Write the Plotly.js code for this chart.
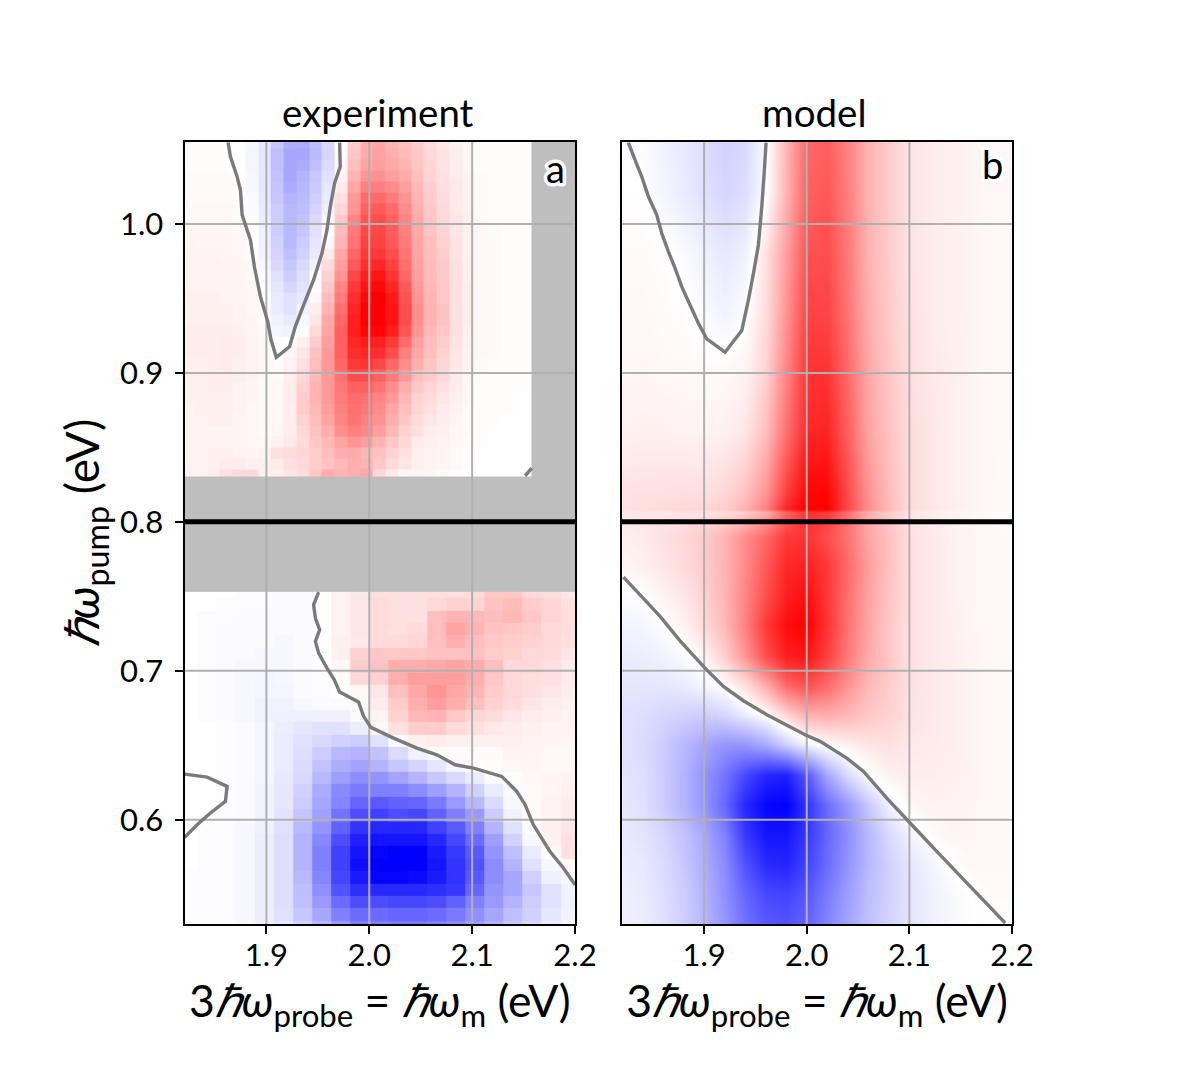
<!DOCTYPE html>
<html><head><meta charset="utf-8">
<script src="https://cdn.plot.ly/plotly-3.0.1.min.js"></script>
<style>html,body{margin:0;padding:0;background:#fff}
.annotation[data-index="2"] text,.annotation[data-index="3"] text{stroke:#fff;stroke-width:7px;paint-order:stroke;stroke-linejoin:round}</style></head>
<body><div id="chart" style="width:1196px;height:1080px"></div>
<script>
const ticksX=[1.9,2.0,2.1,2.2];
const ticksY=[0.6,0.7,0.8,0.9,1.0];
const xTickText=["1.9","2.0","2.1","2.2"];
const yTickText=["0.6","0.7","0.8","0.9","1.0"];

// Panel a, pump above the gap: rows top to bottom
const expUpper=[
[1,1,1,1,0,-3,-9,-22,-32,-33,-25,-15,1,20,32,35,30,25,20,14,10,6,4,1,1,1,1,1],
[1,1,1,1,0,-4,-10,-25,-35,-35,-27,-16,2,22,33,37,32,27,22,15,11,7,4,1,1,1,1,1],
[1,1,1,1,0,-4,-10,-25,-35,-33,-25,-14,4,25,36,38,34,30,23,16,11,8,4,1,1,1,1,1],
[2,2,2,2,1,-3,-10,-24,-35,-30,-22,-12,5,30,42,43,38,33,25,17,12,8,5,2,1,1,1,1],
[2,2,2,2,1,-3,-10,-23,-33,-28,-21,-10,8,35,50,50,46,38,28,19,13,9,5,2,1,1,1,1],
[2,2,2,2,1,-2,-9,-22,-30,-27,-19,-8,12,40,58,58,52,42,30,20,14,9,5,2,1,1,1,1],
[3,3,3,3,2,-2,-8,-20,-28,-26,-17,-6,16,42,62,65,58,45,32,21,15,9,5,2,1,1,1,1],
[3,3,3,3,2,-1,-7,-20,-28,-24,-15,-3,22,48,68,70,62,48,33,22,15,10,6,2,1,1,1,1],
[4,4,4,4,3,0,-6,-20,-28,-22,-12,1,27,52,72,72,64,50,34,23,17,10,6,3,2,1,1,1],
[4,4,4,4,3,0,-6,-18,-28,-20,-10,3,30,55,75,74,66,52,35,25,18,11,6,3,2,1,1,1],
[5,5,5,4,3,1,-5,-17,-25,-18,-8,8,35,60,78,78,70,54,36,26,20,11,6,3,2,1,1,1],
[5,5,5,5,4,2,-3,-15,-22,-15,-5,14,38,65,82,85,75,57,37,27,21,12,6,3,2,1,1,1],
[5,5,5,5,4,2,-2,-12,-20,-13,-2,18,42,72,88,92,80,60,38,27,21,12,6,3,2,1,1,1],
[5,5,5,5,4,3,-1,-10,-16,-11,1,22,48,78,93,97,85,65,40,28,22,12,7,3,2,1,1,1],
[6,6,6,5,4,3,0,-8,-12,-9,3,26,52,82,97,100,90,68,42,29,22,12,7,3,2,1,1,1],
[6,6,6,6,5,3,1,-8,-12,-6,7,30,56,85,100,100,92,70,44,30,24,12,7,3,2,1,1,1],
[6,6,6,6,5,4,1,-6,-9,-3,10,34,60,88,100,100,92,70,44,30,24,12,7,3,2,1,1,1],
[7,7,7,7,6,4,2,-4,-5,1,15,36,62,88,98,98,88,66,42,28,22,12,6,3,2,1,1,1],
[7,7,7,8,7,5,3,-2,0,6,20,38,62,85,90,88,78,58,38,26,20,11,6,3,2,1,1,1],
[7,7,7,8,7,5,3,0,3,10,24,40,62,82,85,82,70,50,35,25,18,10,5,3,2,1,1,1],
[6,6,7,8,6,5,3,2,5,12,26,40,60,78,80,72,60,45,32,23,16,9,5,2,1,1,1,1],
[6,6,7,7,6,5,3,2,6,15,28,40,56,70,70,62,52,40,26,20,15,8,4,1,1,1,1,1],
[6,6,7,7,5,4,2,3,7,18,30,40,53,62,62,55,45,32,22,16,12,7,3,1,1,1,1,1],
[6,6,6,6,5,4,2,3,8,20,30,40,52,58,56,48,40,28,18,14,10,6,3,1,1,1,0,0],
[5,6,6,6,5,3,2,3,7,20,28,38,50,56,53,45,35,25,16,12,8,5,2,1,1,1,0,0],
[5,5,6,6,4,3,2,3,7,18,26,36,48,55,50,42,32,22,14,10,7,4,2,1,1,0,0,0],
[5,5,5,5,4,3,2,4,7,15,24,32,44,50,47,38,28,18,12,8,6,3,2,1,0,0,0,0],
[5,5,5,5,4,3,3,6,9,14,22,28,36,42,38,30,22,15,8,6,5,3,1,1,0,0,0,0],
[5,5,6,6,5,4,5,12,14,16,20,26,32,33,28,24,18,12,6,5,4,2,1,0,0,0,0,0],
[5,5,6,8,8,6,6,8,12,15,20,24,28,32,30,22,14,10,6,5,4,2,1,0,0,0,0,0],
[5,5,7,12,15,15,6,6,10,14,22,32,30,32,35,15,8,3,4,3,2,1,0,0,0,0,0,0]];

// Panel a, pump below the gap: rows top to bottom
const expLower=[
[0,0,0,-1,-1,-2,-2,0,5,9,12,12,12,12,12,14,22,22,15,13,10],
[0,0,-1,-1,-1,-2,-2,0,5,10,14,12,12,15,18,17,24,27,20,17,12],
[0,-1,-1,-2,-2,-2,-2,0,5,10,14,12,12,25,30,28,26,28,22,17,13],
[0,-1,-2,-2,-2,-2,-2,0,5,10,14,12,14,26,36,30,24,22,20,15,13],
[0,-1,-2,-2,-2,-3,-2,0,6,9,14,14,16,25,32,26,22,20,18,15,12],
[0,-1,-2,-2,-3,-3,-2,0,6,18,22,22,22,24,24,24,20,18,15,14,10],
[0,-1,-2,-3,-3,-3,-2,0,3,20,24,32,32,34,36,33,25,15,15,12,8],
[0,-1,-2,-3,-4,-3,-2,-1,1,15,18,32,38,38,38,32,22,15,13,12,8],
[0,-1,-2,-3,-4,-4,-2,-1,0,3,10,25,35,42,35,30,20,15,13,10,7],
[0,-1,-2,-3,-5,-5,-3,-2,-2,1,8,20,32,38,32,25,18,14,10,7,6],
[0,-1,-2,-3,-5,-6,-6,-6,-6,-2,5,18,28,30,22,16,14,10,7,6,5],
[0,0,-1,-2,-4,-7,-10,-12,-12,-7,3,12,20,20,14,12,9,7,6,5,5],
[0,0,-1,-2,-4,-8,-12,-15,-18,-20,-12,-2,6,8,6,6,6,6,5,4,4],
[0,0,-1,-2,-4,-8,-13,-20,-28,-30,-24,-14,-5,2,2,2,2,5,4,3,3],
[0,0,-1,-2,-4,-8,-14,-24,-32,-36,-30,-22,-17,-10,-4,0,1,3,4,3,3],
[0,0,-1,-2,-4,-9,-15,-28,-38,-45,-42,-36,-30,-22,-15,-8,-2,1,3,4,5],
[0,0,-1,-2,-5,-10,-18,-33,-46,-52,-50,-50,-45,-38,-30,-18,-8,-2,2,4,6],
[0,0,-1,-2,-5,-10,-20,-35,-48,-60,-65,-62,-60,-52,-40,-28,-14,-3,2,5,8],
[0,0,-1,-2,-5,-11,-23,-37,-55,-70,-75,-70,-72,-62,-50,-40,-20,-6,2,5,8],
[0,-1,-1,-3,-6,-12,-27,-42,-62,-80,-85,-85,-85,-75,-65,-50,-30,-12,-2,6,10],
[0,-1,-1,-3,-7,-13,-30,-47,-70,-88,-92,-92,-92,-85,-72,-58,-38,-18,-3,6,12],
[0,-1,-1,-3,-7,-13,-30,-50,-75,-92,-98,-100,-100,-90,-78,-65,-42,-25,-8,2,12],
[0,-1,-1,-3,-7,-13,-30,-50,-75,-95,-100,-100,-100,-92,-80,-68,-45,-30,-12,-3,3],
[-1,-1,-1,-3,-7,-13,-28,-48,-73,-90,-98,-98,-96,-90,-80,-65,-45,-35,-18,-6,-3],
[-1,-1,-1,-3,-7,-13,-26,-44,-68,-82,-84,-84,-84,-82,-78,-60,-42,-35,-22,-12,-5],
[-1,-1,-1,-3,-7,-13,-25,-40,-58,-70,-70,-72,-72,-70,-62,-50,-40,-30,-20,-12,-6],
[-1,-1,-1,-3,-7,-12,-22,-35,-50,-58,-58,-60,-60,-58,-52,-44,-35,-25,-18,-10,-5],
[-1,-1,-1,-3,-6,-10,-18,-28,-40,-50,-50,-52,-52,-50,-45,-38,-30,-22,-15,-8,-4]];

// Panel b, model: photon energies and pump rows
const modelX=[1.80,1.84,1.86,1.88,1.90,1.92,1.94,1.96,1.98,2.00,2.02,2.04,2.06,2.08,2.10,2.12,2.14,2.16,2.18,2.22];
const modelY=[1.07,1.02,0.98,0.94,0.90,0.86,0.82,0.8085,0.8065,0.79,0.77,0.75,0.73,0.71,0.69,0.67,0.65,0.63,0.61,0.59,0.57,0.55,0.52];
const modelZ=[
[0,-3,-6,-9,-14,-19,-16,-2,28,58,62,48,30,20,11,8,6,5,3,3],
[1,0,-4,-8,-12,-16,-13,-1,30,62,66,50,30,20,11,8,6,5,3,3],
[2,2,1,-2,-6,-9,-6,12,38,68,70,52,30,20,11,8,6,5,3,3],
[3,3,2,1,-2,-5,-1,14,42,74,74,54,32,21,12,8,6,5,3,3],
[3,4,3,3,2,3,5,18,48,80,80,58,34,22,13,9,7,5,3,3],
[5,6,6,5,5,6,10,26,56,85,86,62,36,24,14,10,7,5,3,3],
[10,12,12,13,12,16,24,42,75,98,98,70,42,26,14,10,7,5,3,2],
[11,13,14,15,16,20,30,50,85,100,100,72,44,27,14,10,7,5,3,2],
[8,10,10,11,12,14,20,32,60,80,78,55,32,20,11,8,5,4,2,2],
[4,8,12,16,20,30,45,60,78,80,70,55,35,25,12,9,6,4,3,2],
[2,6,10,14,20,30,46,66,85,88,78,58,38,24,13,9,6,4,3,2],
[-3,0,5,10,18,30,48,70,88,95,78,56,36,23,13,9,6,4,3,2],
[-6,-4,-1,5,15,28,50,78,95,100,80,55,35,22,12,9,7,4,3,2],
[-8,-7,-5,-2,4,20,42,70,88,92,75,52,33,22,12,9,7,5,3,2],
[-10,-10,-10,-8,-4,0,12,32,58,68,58,42,28,20,12,9,7,5,3,2],
[-10,-13,-16,-18,-20,-16,-8,0,16,30,32,28,22,18,11,9,7,5,3,2],
[-9,-14,-20,-28,-35,-42,-42,-34,-20,-6,1,6,10,12,9,8,7,5,3,2],
[-8,-13,-20,-30,-42,-55,-72,-85,-88,-65,-35,-14,-1,6,7,7,6,5,3,2],
[-7,-12,-20,-30,-42,-60,-85,-98,-100,-80,-58,-40,-22,-6,3,5,5,4,3,2],
[-6,-11,-16,-24,-34,-50,-78,-92,-92,-78,-60,-44,-28,-15,-6,1,4,4,3,2],
[-5,-9,-14,-22,-32,-46,-68,-84,-86,-74,-58,-42,-28,-18,-10,-5,0,3,3,2],
[-4,-8,-13,-20,-30,-44,-60,-72,-74,-66,-52,-38,-26,-18,-11,-6,-3,0,2,2],
[-4,-7,-11,-18,-28,-40,-54,-62,-64,-58,-46,-34,-24,-16,-10,-6,-3,-1,0,1]];

// Zero contours
const expTopCx=[1.8628,1.8650,1.8715,1.8748,1.8764,1.8845,1.8883,1.8942,1.9013,1.9045,1.9097,1.9226,1.9281,1.9369,1.9459,1.9540,1.9589,1.9621,1.9663,1.9718,1.9712];
const expTopCy=[1.0546,1.0452,1.0318,1.0228,1.0061,0.9893,0.9714,0.9512,0.9345,0.9222,0.9105,0.9177,0.9311,0.9468,0.9624,0.9803,0.9960,1.0116,1.0273,1.0385,1.0546];
const expCornerCx=[2.1515,2.1579];
const expCornerCy=[0.8309,0.8360];
const expMainCx=[1.9508,1.9459,1.9476,1.9518,1.9476,1.9508,1.9589,1.9660,1.9712,1.9896,1.9945,2.0016,2.0236,2.0463,2.0657,2.0835,2.1013,2.1288,2.1434,2.1515,2.1595,2.1757,2.1887,2.2000];
const expMainCy=[0.7528,0.7443,0.7354,0.7275,0.7197,0.7119,0.7018,0.6940,0.6857,0.6790,0.6694,0.6620,0.6548,0.6481,0.6436,0.6369,0.6347,0.6291,0.6190,0.6101,0.5966,0.5787,0.5676,0.5564];
const expLoopCx=[1.8204,1.8424,1.8618,1.8602,1.8456,1.8327,1.8204];
const expLoopCy=[0.6306,0.6286,0.6224,0.6123,0.6045,0.5967,0.5881];
const modTopCx=[1.8262,1.8327,1.8392,1.8457,1.8538,1.8587,1.8652,1.8717,1.8782,1.8863,1.8944,1.9026,1.9204,1.9367,1.9432,1.9481,1.9529,1.9562,1.9585,1.9604];
const modTopCy=[1.0546,1.0430,1.0318,1.0184,1.0061,0.9937,0.9814,0.9703,0.9579,0.9456,0.9333,0.9228,0.9139,0.9284,0.9490,0.9669,0.9859,1.0116,1.0340,1.0546];
const modLowCx=[1.8214,1.8376,1.8571,1.8766,1.9009,1.9188,1.9383,1.9611,1.9984,2.0130,2.0390,2.0553,2.0780,2.1007,2.1267,2.1592,2.1933];
const modLowCy=[0.7629,0.7510,0.7365,0.7201,0.7018,0.6895,0.6799,0.6705,0.6570,0.6526,0.6414,0.6324,0.6145,0.5978,0.5787,0.5553,0.5307];

const bwr=[[0,'#0000ff'],[0.5,'#ffffff'],[1,'#ff0000']];
const FONT='Lato, "Open Sans", sans-serif';
const XA=[1.8204,2.2], XB=[1.82,2.2], YR=[0.530,1.055];
function steps(start,step,n,last){const e=[];for(let i=0;i<n;i++)e.push(start+i*step);if(last!==undefined)e.push(last);return e;}
const rev=a=>a.slice().reverse();

const upXEdges=steps(1.8175,0.012398,28,2.1573);
const upYEdges=[1.0560].concat(steps(1.0508,-0.007443,30,0.8305));
const loXEdges=steps(1.8143,0.018592,22);
const loYEdges=[0.7530].concat(steps(0.7488,-0.008329,27),[0.5238]);

function hm(x,y,z,ax,ay,extra){return Object.assign({type:'heatmap',x:x,y:y,z:z,xaxis:ax,yaxis:ay,colorscale:bwr,zmin:-100,zmax:100,showscale:false,hoverinfo:'skip'},extra||{});}
function ln(x,y,ax,ay,color,w){return {type:'scatter',mode:'lines',x:x,y:y,xaxis:ax,yaxis:ay,line:{color:color,width:w,simplify:false},hoverinfo:'skip',showlegend:false,cliponaxis:true};}
function gridTrace(ax,ay,xr){
  const gx=[],gy=[];
  ticksX.slice(0,3).forEach(v=>{gx.push(v,v,null);gy.push(YR[0],YR[1],null);});
  ticksY.forEach(v=>{if(v!==0.8){gx.push(xr[0],xr[1],null);gy.push(v,v,null);}});
  return ln(gx,gy,ax,ay,'#b0b0b0',2);
}
const GC='#7a7a7a',GW=3.4;
const data=[
  hm(upXEdges,rev(upYEdges),rev(expUpper),'x','y'),
  hm(loXEdges,rev(loYEdges),rev(expLower),'x','y'),
  gridTrace('x','y',XA),
  ln(expTopCx,expTopCy,'x','y',GC,GW),
  ln(expCornerCx,expCornerCy,'x','y',GC,GW),
  ln(expMainCx,expMainCy,'x','y',GC,GW),
  ln(expLoopCx,expLoopCy,'x','y',GC,GW),
  ln(XA,[0.8,0.8],'x','y','#000000',5),
  hm(modelX,rev(modelY),rev(modelZ),'x2','y2',{zsmooth:'best'}),
  gridTrace('x2','y2',XB),
  ln(modTopCx,modTopCy,'x2','y2',GC,GW),
  ln(modLowCx,modLowCy,'x2','y2',GC,GW),
  ln(XB,[0.8,0.8],'x2','y2','#000000',5)
];
const W=1196,H=1080;
const xt={text:'3<i>ℏω</i><sub>probe</sub> = <i>ℏω</i><sub>m</sub> (eV)',font:{family:FONT,size:44.5,color:'#000'},standoff:11};
const axBase={showgrid:false,zeroline:false,showline:true,linecolor:'#000',linewidth:2,mirror:true,ticks:'outside',ticklen:8,tickwidth:1.8,tickcolor:'#000',tickfont:{family:FONT,size:31,color:'#000'}};
const layout={
  width:W,height:H,margin:{l:0,r:0,t:0,b:0},paper_bgcolor:'#fff',plot_bgcolor:'#bebebe',showlegend:false,
  xaxis:Object.assign({},axBase,{domain:[184.5/W,575/W],range:XA,anchor:'y',tickmode:'array',tickvals:ticksX,ticktext:xTickText,ticklabelstandoff:-5,title:xt}),
  yaxis:Object.assign({},axBase,{domain:[1-924/H,1-142/H],range:YR,anchor:'x',tickmode:'array',tickvals:ticksY,ticktext:yTickText,ticklabelstandoff:5,
    title:{text:'<i>ℏω</i><sub>pump</sub> (eV)',font:{family:FONT,size:46,color:'#000'},standoff:6}}),
  xaxis2:Object.assign({},axBase,{domain:[622/W,1012/W],range:XB,anchor:'y2',tickmode:'array',tickvals:ticksX,ticktext:xTickText,ticklabelstandoff:-5,title:xt}),
  yaxis2:Object.assign({},axBase,{domain:[1-924/H,1-142/H],range:YR,anchor:'x2',ticks:'',showticklabels:false}),
  annotations:[
    {text:'experiment',xref:'x domain',yref:'y domain',x:0.5,y:1,yanchor:'bottom',yshift:5,xshift:-2,showarrow:false,font:{family:FONT,size:38.5,color:'#000'}},
    {text:'model',xref:'x2 domain',yref:'y2 domain',x:0.5,y:1,yanchor:'bottom',yshift:5,xshift:-3,showarrow:false,font:{family:FONT,size:38.5,color:'#000'}},
    {text:'a',xref:'x domain',yref:'y domain',x:0.951,y:0.9635,yanchor:'middle',xanchor:'center',yshift:3,xshift:0,showarrow:false,font:{family:FONT,size:38,color:'#000'}},
    {text:'b',xref:'x2 domain',yref:'y2 domain',x:0.952,y:0.9635,yanchor:'middle',xanchor:'center',yshift:7,xshift:-1,showarrow:false,font:{family:FONT,size:38,color:'#000'}}
  ]
};
Plotly.newPlot('chart',data,layout,{displayModeBar:false,staticPlot:true});
</script></body></html>
